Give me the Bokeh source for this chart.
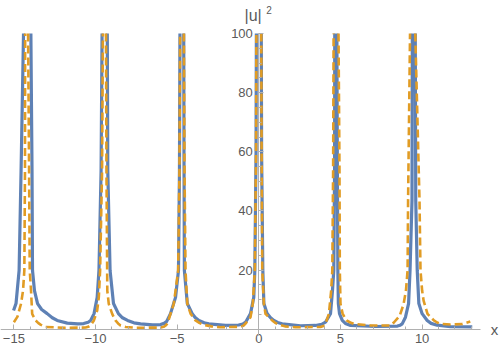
import numpy as np
from bokeh.plotting import figure
from bokeh.models import Range1d, LinearAxis, FixedTicker, Label
from bokeh.embed import file_html
from bokeh.resources import INLINE

NA = float("nan")  # the curve leaves the plotted range (|u|^2 > 100) here

# ---- data ----
blue_x = [-15.02, -14.87, -14.68, -14.56, -14.41, -14.18, -13.96, -13.89, -13.86, -13.74,
          -13.55, -13.30, -12.96, -12.65, -12.35, -11.73, -11.10, -10.73, -10.45, -10.30,
          -10.09, -9.90, -9.79, -9.66, -9.60, -9.44, -9.28, -9.25, -9.11, -8.90,
          -8.60, -8.35, -8.04, -7.65, -7.24, -6.51, -6.02, -5.80, -5.65, -5.41,
          -5.10, -4.92, -4.86, -4.83, -4.72, -4.60, -4.58, -4.56, -4.38, -4.08,
          -3.90, -3.67, -3.35, -3.06, -2.04, -1.24, -0.98, -0.81, -0.51, -0.31,
          -0.245, -0.17, -0.15, 0.0, 0.15, 0.17, 0.245, 0.31, 0.51, 0.72,
          0.92, 1.15, 1.43, 2.55, 3.47, 3.85, 4.08, 4.39, 4.51, 4.59,
          4.64, 4.65, 4.72, 4.78, 4.81, 4.84, 4.87, 4.94, 5.11, 5.30,
          5.62, 7.15, 8.49, 8.66, 8.78, 8.98, 9.17, 9.26, 9.38, 9.40,
          9.49, 9.58, 9.61, 9.70, 9.80, 10.00, 10.31, 10.55, 10.92, 11.74,
          13.07]
blue_y = [6.35, 8.7, 19.9, 53.6, 100, NA, 100, 53.6, 19.9, 13.1,
          8.7, 6.7, 5.3, 3.9, 3.0, 2.1, 1.85, 1.95, 2.4, 3.0,
          5.3, 10.8, 19.9, 53.6, 100, NA, 100, 53.6, 19.9, 8.7,
          5.3, 3.9, 3.0, 2.2, 1.85, 1.5, 1.6, 2.0, 2.6, 5.3,
          10.8, 19.9, 53.6, 100, NA, 100, 53.6, 19.9, 8.7, 5.3,
          4.0, 3.0, 2.2, 1.85, 1.3, 1.45, 1.8, 2.4, 5.3, 10.8,
          19.9, 59.7, 100, NA, 100, 59.7, 19.9, 8.7, 5.3, 3.9,
          3.0, 2.3, 1.85, 1.2, 1.3, 1.7, 2.4, 5.3, 13.1, 19.9,
          53.6, 100, NA, 100, 53.6, 19.9, 8.7, 5.3, 3.0, 2.0,
          1.3, 0.95, 1.1, 1.4, 1.85, 4.1, 8.7, 19.9, 43.5, 100,
          NA, 100, 43.5, 19.9, 8.7, 5.3, 3.0, 2.0, 1.4, 0.9,
          0.8]

orange_x = [-15.00, -14.78, -14.56, -14.44, -14.36, -14.32, -14.31, -14.22, -14.13, -14.07,
            -14.03, -13.95, -13.88, -13.67, -13.50, -13.37, -13.06, -11.84, -10.61, -10.45,
            -10.31, -10.10, -9.90, -9.80, -9.72, -9.60, -9.55, -9.46, -9.36, -9.33,
            -9.28, -9.19, -8.98, -8.78, -8.62, -8.47, -8.15, -7.55, -6.02, -5.83,
            -5.70, -5.59, -5.41, -5.21, -5.10, -4.94, -4.86, -4.82, -4.70, -4.59,
            -4.55, -4.49, -4.38, -4.18, -3.88, -3.62, -3.37, -2.90, -2.35, -1.12,
            -0.95, -0.81, -0.51, -0.37, -0.245, -0.17, -0.15, 0.0, 0.15, 0.17,
            0.21, 0.31, 0.41, 0.82, 1.00, 1.22, 1.60, 2.25, 3.78, 3.95,
            4.08, 4.29, 4.43, 4.50, 4.55, 4.58, 4.73, 4.88, 4.94, 4.96,
            5.00, 5.13, 5.37, 5.60, 5.82, 6.84, 8.07, 8.27, 8.62, 8.86,
            9.01, 9.11, 9.14, 9.26, 9.44, 9.58, 9.84, 9.90, 10.00, 10.09,
            10.33, 10.72, 10.92, 11.13, 11.74, 12.47, 12.95]
orange_y = [2.4, 4.3, 8.7, 13.1, 19.9, 53.6, 100, NA, 100, 53.6,
            19.9, 13.1, 5.2, 3.0, 2.1, 1.6, 0.8, 0.5, 0.6, 0.85,
            1.3, 3.0, 6.35, 10.8, 19.9, 53.6, 100, NA, 100, 53.6,
            13.1, 8.6, 5.2, 3.0, 2.0, 1.3, 0.8, 0.5, 0.6, 0.85,
            1.3, 2.0, 5.2, 8.6, 13.1, 19.9, 53.6, 100, NA, 100,
            53.6, 19.9, 8.6, 5.3, 3.0, 2.1, 1.5, 1.0, 0.7, 0.85,
            1.2, 1.95, 4.1, 8.6, 19.9, 59.7, 100, NA, 100, 59.7,
            19.9, 8.6, 5.2, 3.0, 2.2, 1.6, 1.0, 0.7, 0.8, 1.1,
            1.85, 5.2, 13.1, 19.9, 53.6, 100, NA, 100, 53.6, 19.9,
            8.7, 5.3, 3.0, 2.3, 1.85, 1.3, 1.3, 2.3, 4.5, 8.4,
            13.1, 19.9, 43.5, 100, NA, 100, 43.5, 19.9, 13.1, 9.7,
            5.2, 3.0, 2.3, 1.85, 1.6, 1.8, 2.6]

x_ticks = [-15, -10, -5, 0, 5, 10]
x_tick_labels = ["\u221215", "\u221210", "\u22125", "0", "5", "10"]
x_minor_ticks = list(range(-15, 14))
y_ticks = [20, 40, 60, 80, 100]
y_tick_labels = ["20", "40", "60", "80", "100"]
y_minor_ticks = list(range(0, 101, 5))

x_label = "x"
y_label = "|u|"
y_label_power = "2"

BLUE = "#5E81B5"
ORANGE = "#E19C24"
AXIS = "#b0b0b0"
TXT = "#5a5a5a"
FONT = "Liberation Sans"

p = figure(width=500, height=352, output_backend="svg", toolbar_location=None,
           x_range=Range1d(-15.82, 14.80), y_range=Range1d(-7.84, 111.16),
           x_axis_location=None, y_axis_location=None,
           min_border_left=0, min_border_right=0, min_border_top=0, min_border_bottom=0)
p.outline_line_color = None
p.background_fill_color = "white"
p.border_fill_color = "white"
p.grid.visible = False

xaxis = LinearAxis(fixed_location=0, bounds=(-15.82, 13.58),
                   ticker=FixedTicker(ticks=x_ticks, minor_ticks=x_minor_ticks),
                   major_label_overrides={t: s for t, s in zip(x_ticks, x_tick_labels)},
                   axis_line_color=AXIS, major_tick_line_color=AXIS, minor_tick_line_color=AXIS,
                   major_tick_in=5, major_tick_out=0, minor_tick_in=3, minor_tick_out=0,
                   major_label_standoff=5, major_label_text_font=FONT,
                   major_label_text_font_size="13px", major_label_text_color=TXT)
yaxis = LinearAxis(fixed_location=0, bounds=(-2.1, 100),
                   ticker=FixedTicker(ticks=y_ticks, minor_ticks=y_minor_ticks),
                   major_label_overrides={t: s for t, s in zip(y_ticks, y_tick_labels)},
                   axis_line_color=AXIS, major_tick_line_color=AXIS, minor_tick_line_color=AXIS,
                   major_tick_in=5, major_tick_out=0, minor_tick_in=3, minor_tick_out=0,
                   major_label_standoff=6, major_label_text_font=FONT,
                   major_label_text_font_size="13px", major_label_text_color=TXT)
p.add_layout(xaxis, "below")
p.add_layout(yaxis, "left")

p.line(np.array(blue_x), np.array(blue_y), line_color=BLUE, line_width=3.2, line_join="round")
p.line(np.array(orange_x), np.array(orange_y), line_color=ORANGE, line_width=2.6,
       line_dash="8 4", line_join="round")

p.add_layout(Label(x=14.2, y=0, text=x_label, text_align="left", text_baseline="middle",
                   text_font=FONT, text_font_size="15px", text_color=TXT))
p.add_layout(Label(x=-0.35, y=106.1, text=y_label, text_align="center", text_baseline="middle",
                   text_font=FONT, text_font_size="16px", text_color=TXT))
p.add_layout(Label(x=0.62, y=107.9, text=y_label_power, text_align="center", text_baseline="middle",
                   text_font=FONT, text_font_size="10px", text_color=TXT))

open("out.html", "w").write(file_html(p, INLINE))
